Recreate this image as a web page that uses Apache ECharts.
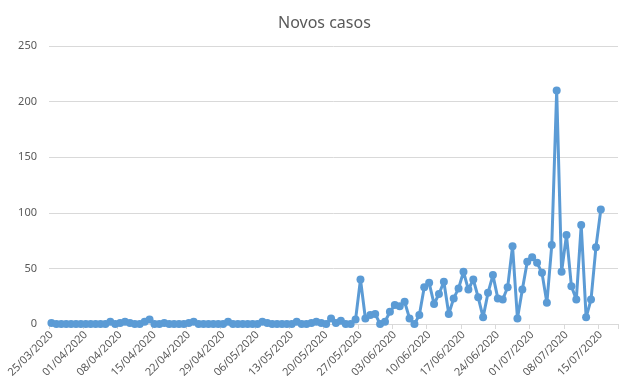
<!DOCTYPE html>
<html>
<head>
<meta charset="utf-8">
<script src="https://cdn.jsdelivr.net/npm/echarts@6/dist/echarts.min.js"></script>
<style>
html,body{margin:0;padding:0;background:#fff;}
#chart{width:623px;height:387px;}
</style>
</head>
<body>
<div id="chart"></div>
<script>
var titleText = "Novos casos";
var categories = [
"25/03/2020","26/03/2020","27/03/2020","28/03/2020","29/03/2020","30/03/2020","31/03/2020",
"01/04/2020","02/04/2020","03/04/2020","04/04/2020","05/04/2020","06/04/2020","07/04/2020","08/04/2020","09/04/2020","10/04/2020",
"11/04/2020","12/04/2020","13/04/2020","14/04/2020","15/04/2020","16/04/2020","17/04/2020","18/04/2020","19/04/2020","20/04/2020",
"21/04/2020","22/04/2020","23/04/2020","24/04/2020","25/04/2020","26/04/2020","27/04/2020","28/04/2020","29/04/2020","30/04/2020",
"01/05/2020","02/05/2020","03/05/2020","04/05/2020","05/05/2020","06/05/2020","07/05/2020","08/05/2020","09/05/2020","10/05/2020",
"11/05/2020","12/05/2020","13/05/2020","14/05/2020","15/05/2020","16/05/2020","17/05/2020","18/05/2020","19/05/2020","20/05/2020",
"21/05/2020","22/05/2020","23/05/2020","24/05/2020","25/05/2020","26/05/2020","27/05/2020","28/05/2020","29/05/2020","30/05/2020","31/05/2020",
"01/06/2020","02/06/2020","03/06/2020","04/06/2020","05/06/2020","06/06/2020","07/06/2020","08/06/2020","09/06/2020","10/06/2020",
"11/06/2020","12/06/2020","13/06/2020","14/06/2020","15/06/2020","16/06/2020","17/06/2020","18/06/2020","19/06/2020","20/06/2020",
"21/06/2020","22/06/2020","23/06/2020","24/06/2020","25/06/2020","26/06/2020","27/06/2020","28/06/2020","29/06/2020","30/06/2020",
"01/07/2020","02/07/2020","03/07/2020","04/07/2020","05/07/2020","06/07/2020","07/07/2020","08/07/2020","09/07/2020","10/07/2020",
"11/07/2020","12/07/2020","13/07/2020","14/07/2020","15/07/2020","16/07/2020","17/07/2020","18/07/2020"
];
var novosCasos = [
1,0,0,0,0,0,0,
0,0,0,0,0,2,0,1,2,1,
0,0,2,4,0,0,1,0,0,0,
0,1,2,0,0,0,0,0,0,2,
0,0,0,0,0,0,2,1,0,0,
0,0,0,2,0,0,1,2,1,0,
5,1,3,0,0,4,40,5,8,9,0,
2,11,17,16,20,5,0,8,33,37,
18,27,38,9,23,32,47,31,40,24,
6,28,44,23,22,33,70,5,31,56,
60,55,46,19,71,210,47,80,34,22,
89,6,22,69,103,null,null,null
];
var yTicks = {min: 0, max: 250, interval: 50};

var chart = echarts.init(document.getElementById('chart'), null, {renderer: 'canvas'});
chart.setOption({
  animation: false,
  backgroundColor: '#ffffff',
  title: {
    text: titleText,
    left: 273,
    top: 10,
    textStyle: {fontFamily: 'Noto Sans', fontSize: 16, fontWeight: 'normal', color: '#595959'}
  },
  grid: {left: 49, right: 5, top: 46, bottom: 63, containLabel: false},
  xAxis: {
    type: 'category',
    data: categories,
    boundaryGap: true,
    axisLine: {lineStyle: {color: '#D9D9D9', width: 1}},
    axisTick: {show: true, interval: 6, alignWithLabel: false, length: 5, lineStyle: {color: '#D9D9D9'}},
    axisLabel: {interval: 6, rotate: 45, margin: 9, color: '#595959', fontFamily: 'Noto Sans', fontSize: 11},
    splitLine: {show: false}
  },
  yAxis: {
    type: 'value',
    min: yTicks.min,
    max: yTicks.max,
    interval: yTicks.interval,
    axisLine: {show: false},
    axisTick: {show: false},
    axisLabel: {color: '#595959', fontFamily: 'Noto Sans', fontSize: 11, margin: 12},
    splitLine: {lineStyle: {color: '#D9D9D9', width: 1}}
  },
  series: [{
    type: 'line',
    data: novosCasos,
    connectNulls: false,
    symbol: 'circle',
    symbolSize: 8,
    showAllSymbol: true,
    lineStyle: {color: '#5B9BD5', width: 3},
    itemStyle: {color: '#5B9BD5'}
  }]
});
</script>
</body>
</html>
